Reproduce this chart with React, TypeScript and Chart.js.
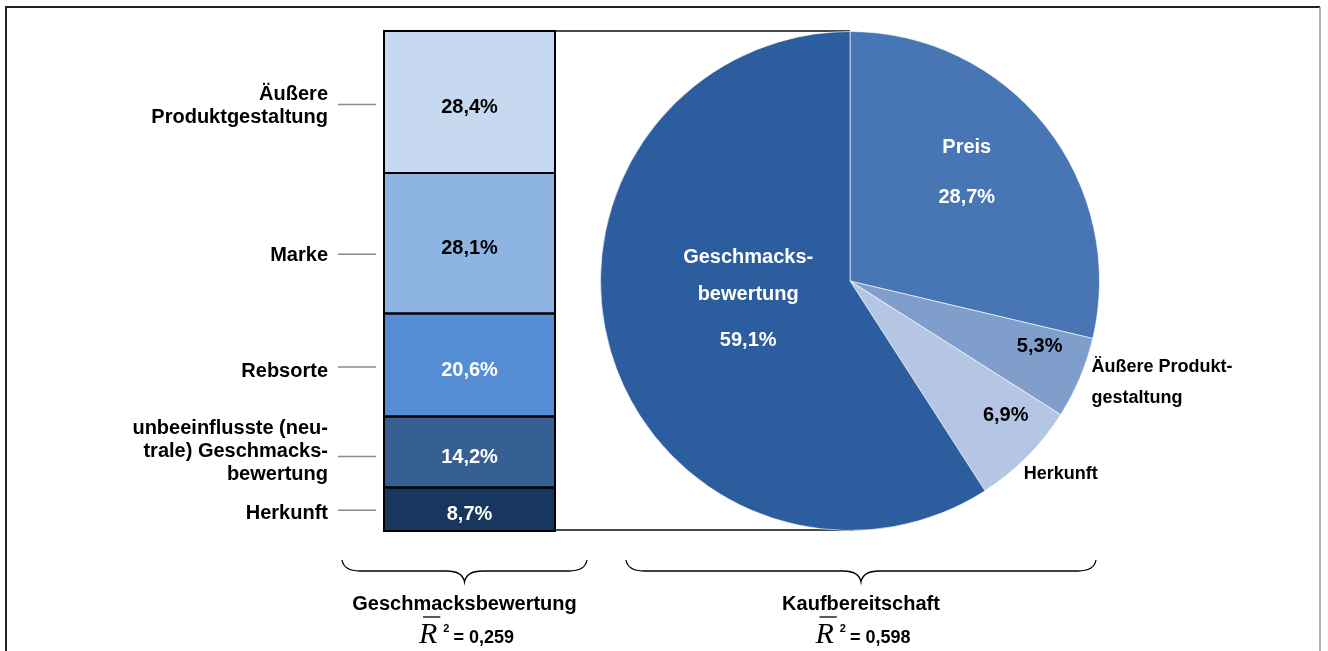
import { useEffect, useRef } from 'react';
import { Chart, registerables } from 'chart.js';

Chart.register(...registerables);

// ---------- data ----------
const BAR_CATEGORIES = ['Herkunft', 'unbeeinflusste (neutrale) Geschmacksbewertung', 'Rebsorte', 'Marke', 'Äußere Produktgestaltung'];
const BAR_VALUES = [8.7, 14.2, 20.6, 28.1, 28.4];
const BAR_LABEL_LINES = [
  ['Herkunft'],
  ['unbeeinflusste (neu-', 'trale) Geschmacks-', 'bewertung'],
  ['Rebsorte'],
  ['Marke'],
  ['Äußere', 'Produktgestaltung'],
];

const PIE_CATEGORIES = ['Preis', 'Äußere Produktgestaltung', 'Herkunft', 'Geschmacksbewertung'];
const PIE_VALUES = [28.7, 5.3, 6.9, 59.1];
const PIE_LABEL_LINES = [['Preis'], ['Äußere Produkt-', 'gestaltung'], ['Herkunft'], ['Geschmacks-', 'bewertung']];

const MODEL_TITLES = ['Geschmacksbewertung', 'Kaufbereitschaft'];
const R2_VALUES = [0.259, 0.598];

// ---------- styles ----------
const W = 1328;
const H = 651;
const SANS = '"Liberation Sans", Arial, Helvetica, sans-serif';
const SERIF = '"Liberation Serif", "Times New Roman", serif';
const F_MAIN = `bold 20px ${SANS}`;
const F_OUT = `bold 18px ${SANS}`;

const BAR_COLORS = ['#17375E', '#366092', '#558ED5', '#8EB4E3', '#C6D9F1'];
const BAR_TEXT_COLORS = ['#ffffff', '#ffffff', '#ffffff', '#000000', '#000000'];
const LEADER_DY = [1, 4.5, 2, 11, 2.5];
const LABEL_DY = [3, -5, 4, 1, 1.5];

const PIE_COLORS = ['#4876B4', '#7F9ECC', '#B4C6E3', '#2C5D9F'];
const PIE_TEXT_COLORS = ['#ffffff', '#000000', '#000000', '#ffffff'];

const BAR_AREA = { left: 384, right: 555, top: 31, bottom: 531 };
const PIE_AREA = { left: 600, right: 1100, top: 31, bottom: 531 };

const fmtPct = (v: number) => v.toFixed(1).replace('.', ',') + '%';
const fmtR2 = (v: number) => '= ' + v.toFixed(3).replace('.', ',');

function drawBrace(ctx: CanvasRenderingContext2D, x1: number, x2: number, y0: number) {
  const mid = (x1 + x2) / 2;
  const ym = y0 + 11;
  const yt = y0 + 22;
  const r = 18;
  ctx.beginPath();
  ctx.moveTo(x1, y0);
  ctx.quadraticCurveTo(x1 + 2, ym, x1 + r, ym);
  ctx.lineTo(mid - r, ym);
  ctx.quadraticCurveTo(mid - 2, ym, mid, yt);
  ctx.quadraticCurveTo(mid + 2, ym, mid + r, ym);
  ctx.lineTo(x2 - r, ym);
  ctx.quadraticCurveTo(x2 - 2, ym, x2, y0);
  ctx.stroke();
}

function drawModelCaption(ctx: CanvasRenderingContext2D, mid: number, title: string, r2: number) {
  ctx.fillStyle = '#000';
  ctx.textAlign = 'center';
  ctx.textBaseline = 'middle';
  ctx.font = F_MAIN;
  ctx.fillText(title, mid, 604);

  ctx.textAlign = 'left';
  ctx.textBaseline = 'alphabetic';
  ctx.font = `italic 30px ${SERIF}`;
  const wR = ctx.measureText('R').width;
  ctx.font = `bold 11px ${SANS}`;
  const wS = ctx.measureText('2').width;
  ctx.font = `bold 18px ${SANS}`;
  const eq = fmtR2(r2);
  const wE = ctx.measureText(eq).width;
  const total = wR + 6 + wS + 4 + wE;
  const x0 = mid + 2 - total / 2;

  ctx.font = `italic 30px ${SERIF}`;
  ctx.fillText('R', x0, 643);
  ctx.strokeStyle = '#000';
  ctx.lineWidth = 1.3;
  ctx.beginPath();
  ctx.moveTo(x0 + 4, 617);
  ctx.lineTo(x0 + wR + 3, 617);
  ctx.stroke();
  ctx.font = `bold 11px ${SANS}`;
  ctx.fillText('2', x0 + wR + 6, 632);
  ctx.font = `bold 18px ${SANS}`;
  ctx.fillText(eq, x0 + wR + 6 + wS + 4, 643);
}

const barOverlay = {
  id: 'barOverlay',
  afterDatasetsDraw(chart: any) {
    const ctx: CanvasRenderingContext2D = chart.ctx;
    ctx.save();
    ctx.strokeStyle = '#000';
    ctx.lineWidth = 2;
    BAR_VALUES.forEach((_v, i) => {
      const el = chart.getDatasetMeta(i).data[0];
      const p = el.getProps(['x', 'y', 'base', 'width'], true);
      const top = Math.min(p.y, p.base);
      const h = Math.abs(p.base - p.y);
      ctx.strokeRect(p.x - p.width / 2, top, p.width, h);
    });
    ctx.restore();
  },
  afterDraw(chart: any) {
    const ctx: CanvasRenderingContext2D = chart.ctx;
    const area = chart.chartArea;
    ctx.save();

    // frame
    ctx.strokeStyle = '#222';
    ctx.lineWidth = 2;
    ctx.beginPath();
    ctx.moveTo(6, H + 5);
    ctx.lineTo(6, 7);
    ctx.lineTo(1320, 7);
    ctx.stroke();
    ctx.strokeStyle = '#9a9a9a';
    ctx.lineWidth = 1.5;
    ctx.beginPath();
    ctx.moveTo(1320, 7);
    ctx.lineTo(1320, H + 5);
    ctx.stroke();

    BAR_VALUES.forEach((v, i) => {
      const el = chart.getDatasetMeta(i).data[0];
      const p = el.getProps(['x', 'y', 'base'], true);
      const cy = (p.y + p.base) / 2;

      ctx.fillStyle = BAR_TEXT_COLORS[i];
      ctx.font = F_MAIN;
      ctx.textAlign = 'center';
      ctx.textBaseline = 'middle';
      ctx.fillText(fmtPct(v), p.x, cy + 5);

      const ly = cy + LEADER_DY[i];
      ctx.strokeStyle = '#8c8c8c';
      ctx.lineWidth = 1.5;
      ctx.beginPath();
      ctx.moveTo(area.left - 46, ly);
      ctx.lineTo(area.left - 8, ly);
      ctx.stroke();

      const lines = BAR_LABEL_LINES[i];
      ctx.fillStyle = '#000';
      ctx.textAlign = 'right';
      lines.forEach((t, k) => {
        ctx.fillText(t, area.left - 56, ly + LABEL_DY[i] + (k - (lines.length - 1) / 2) * 23);
      });
    });

    // connector lines to the pie
    const pieMid = (PIE_AREA.left + PIE_AREA.right) / 2;
    ctx.strokeStyle = '#111';
    ctx.lineWidth = 1.5;
    ctx.beginPath();
    ctx.moveTo(area.right, area.top);
    ctx.lineTo(pieMid, area.top);
    ctx.moveTo(area.right, area.bottom - 1);
    ctx.lineTo(pieMid + 4, area.bottom - 1);
    ctx.stroke();

    // braces and captions
    ctx.strokeStyle = '#000';
    ctx.lineWidth = 1.3;
    const b1 = [area.left - 42, area.right + 32];
    const b2 = [pieMid - 224, pieMid + 246];
    drawBrace(ctx, b1[0], b1[1], 560);
    drawBrace(ctx, b2[0], b2[1], 560);
    drawModelCaption(ctx, (b1[0] + b1[1]) / 2, MODEL_TITLES[0], R2_VALUES[0]);
    drawModelCaption(ctx, (b2[0] + b2[1]) / 2, MODEL_TITLES[1], R2_VALUES[1]);

    ctx.restore();
  },
};

// label placement in units of the pie radius
const PIE_LABEL_POS = [
  { nx: 0.468, ny: -0.536, gap: 0, vx: 0.468, vy: -0.336, outside: false },
  { nx: 0.968, ny: 0.344, gap: 31, vx: 0.76, vy: 0.264, outside: true },
  { nx: 0.696, ny: 0.772, gap: 0, vx: 0.624, vy: 0.54, outside: true },
  { nx: -0.408, ny: -0.096, gap: 37, vx: -0.408, vy: 0.24, outside: false },
];

const pieOverlay = {
  id: 'pieOverlay',
  afterDraw(chart: any) {
    const ctx: CanvasRenderingContext2D = chart.ctx;
    const arc = chart.getDatasetMeta(0).data[0];
    const { x: cx, y: cy, outerRadius: r } = arc.getProps(['x', 'y', 'outerRadius'], true);
    ctx.save();
    ctx.textBaseline = 'middle';
    PIE_VALUES.forEach((v, i) => {
      const pos = PIE_LABEL_POS[i];
      const lines = PIE_LABEL_LINES[i];
      ctx.fillStyle = PIE_TEXT_COLORS[i];
      if (pos.outside) {
        ctx.font = F_OUT;
        ctx.textAlign = 'left';
      } else {
        ctx.font = F_MAIN;
        ctx.textAlign = 'center';
      }
      lines.forEach((t, k) => {
        ctx.fillText(t, cx + pos.nx * r, cy + pos.ny * r + k * pos.gap);
      });
      ctx.font = F_MAIN;
      ctx.textAlign = 'center';
      ctx.fillText(fmtPct(v), cx + pos.vx * r, cy + pos.vy * r);
    });
    ctx.restore();
  },
};

export default function App() {
  const barRef = useRef<HTMLCanvasElement>(null);
  const pieRef = useRef<HTMLCanvasElement>(null);

  useEffect(() => {
    const bar = new Chart(barRef.current as HTMLCanvasElement, {
      type: 'bar',
      data: {
        labels: [''],
        datasets: BAR_VALUES.map((v, i) => ({
          label: BAR_CATEGORIES[i],
          data: [v],
          backgroundColor: BAR_COLORS[i],
          borderWidth: 0,
          barPercentage: 1,
          categoryPercentage: 1,
        })),
      },
      options: {
        responsive: false,
        animation: false,
        layout: {
          padding: {
            left: BAR_AREA.left,
            right: W - BAR_AREA.right,
            top: BAR_AREA.top,
            bottom: H - BAR_AREA.bottom,
          },
        },
        scales: {
          x: { stacked: true, display: false },
          y: { stacked: true, display: false, min: 0, max: 100 },
        },
        plugins: { legend: { display: false }, tooltip: { enabled: false } },
      },
      plugins: [barOverlay],
    } as any);

    const pie = new Chart(pieRef.current as HTMLCanvasElement, {
      type: 'pie',
      data: {
        labels: PIE_CATEGORIES,
        datasets: [
          {
            data: PIE_VALUES,
            backgroundColor: PIE_COLORS,
            borderColor: 'rgba(255,255,255,0.6)',
            borderWidth: 1,
          },
        ],
      },
      options: {
        responsive: false,
        animation: false,
        layout: {
          padding: {
            left: PIE_AREA.left,
            right: W - PIE_AREA.right,
            top: PIE_AREA.top,
            bottom: H - PIE_AREA.bottom,
          },
        },
        plugins: { legend: { display: false }, tooltip: { enabled: false } },
      },
      plugins: [pieOverlay],
    } as any);

    return () => {
      bar.destroy();
      pie.destroy();
    };
  }, []);

  return (
    <div style={{ position: 'fixed', left: 0, top: 0, width: W, height: H, background: '#fff', overflow: 'hidden' }}>
      <canvas ref={barRef} width={W} height={H} style={{ position: 'absolute', left: 0, top: 0, width: W, height: H }} />
      <canvas ref={pieRef} width={W} height={H} style={{ position: 'absolute', left: 0, top: 0, width: W, height: H }} />
    </div>
  );
}
